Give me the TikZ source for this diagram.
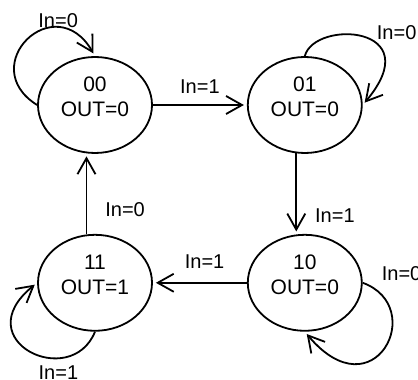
\documentclass[tikz,border=0pt]{standalone}
\usepackage{fontspec}
\setmainfont{Liberation Sans}
\usetikzlibrary{positioning,shapes,arrows.meta}
\tikzstyle{state}=[ellipse, draw=black, line width=0.9pt, minimum width=57pt, minimum height=48pt,
        inner sep=0pt, font=\fontsize{10.5}{12.5}\selectfont]
\tikzstyle{myarrow}=[-{Straight Barb[length=8pt,width=9pt]}, line width=0.9pt, shorten >=1.5pt]
\tikzstyle{cond}=[font=\fontsize{10}{12}\selectfont, inner sep=1pt]
\newcommand{\statetext}[2]{\raisebox{3pt}[\height][\depth]{\begin{tabular}{@{}c@{}}#1\\#2\end{tabular}}}

\begin{document}
\begin{tikzpicture}[x=0.5pt, y=0.5pt, node distance=40pt and 47pt]
	\useasboundingbox (0,0) rectangle (418,380);

	\node (s00) [state] at (95,275) {\statetext{00}{OUT=0}};
	\node (s01) [state, right=of s00] {\statetext{01}{OUT=0}};
	\node (s11) [state, below=of s00] {\statetext{11}{OUT=1}};
	\node (s10) [state, right=of s11] {\statetext{10}{OUT=0}};

\draw[myarrow] (s00) -- node[cond, above=4.5pt] {In=1} (s01);
\draw[myarrow] (s01.260) -- node[cond, pos=0.77, right=8pt] {In=1} (s10.100);
\draw[myarrow] (s10) -- node[cond, pos=0.45, above=5.5pt] {In=1} (s11);
\draw[myarrow] (s11.100) -- node[cond, pos=0.3, right=8pt] {In=0} (s00.260);

% self loops
\draw[myarrow] (s00.west) to[out=148, in=120, out distance=37pt, in distance=40pt]
        node[cond, pos=0.68, above, xshift=4pt, yshift=-1pt] {In=0} (s00.north);
\draw[myarrow] (s01.north) to[out=75, in=50, out distance=19pt, in distance=52pt]
        node[cond, pos=0.6, anchor=south west] {In=0} (s01.east);
\draw[myarrow] (s10.east) to[out=-20, in=-50, out distance=35pt, in distance=54pt]
        node[cond, pos=0.1, anchor=south west, yshift=4.5pt] {In=0} (s10.south);
\draw[myarrow] (s11.south) to[out=248, in=219, out distance=32pt, in distance=46pt]
        node[cond, pos=0.3, below=2.5pt] {In=1} (s11.west);

\end{tikzpicture}
\end{document}
